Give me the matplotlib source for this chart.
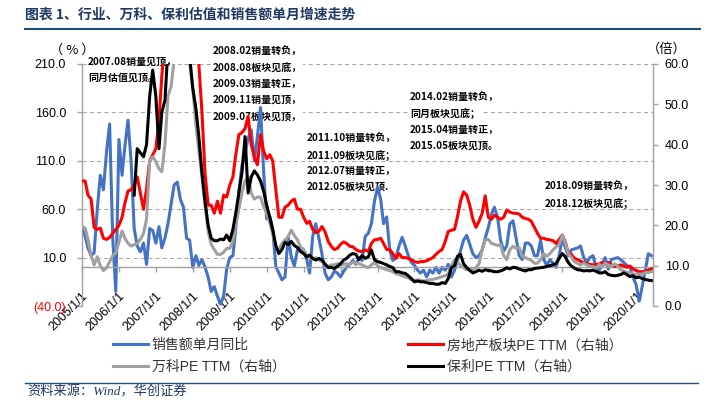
import numpy as np
import pandas as pd
import matplotlib
matplotlib.use("Agg")
import matplotlib.pyplot as plt
from matplotlib.lines import Line2D

plt.rcParams['font.family'] = ['Liberation Sans', 'Noto Sans CJK SC']
plt.rcParams['axes.unicode_minus'] = False

# monthly points, 2005/01 .. 2020/06
months = pd.date_range("2005-01-01", periods=186, freq="MS")
year_ticks = pd.to_datetime(["%d-01-01" % y for y in range(2005, 2021)])
year_labels = ["%d/1/1" % y for y in range(2005, 2021)]

# 销售额单月同比 (%), left axis
sales_yoy = [
    42, 32, 20, 12, 15, 60, 95, 80, 120, 148, 30, -25,          # 2005
    132, 95, 125, 152, 110, 40, 22, 16, 25, 3, 40, 38,          # 2006
    25, 42, 20, 30, 45, 65, 85, 88, 70, 62, 30, 28,             # 2007
    0, 12, 2, 8, 0, -10, -25, -20, -30, -38, -30, -2,           # 2008
    10, 12, 40, 78, 105, 118, 133, 142, 110, 135, 165, 100,     # 2009
    50, 52, 40, 1, -6, -13, -10, 32, 11, 1, 18, 20,             # 2010
    18, 8, -6, 32, 45, 30, 14, -6, -13, -10, -4, -6,            # 2011
    -10, -4, 0, 3, 7, 3, 10, 7, 32, 35, 45, 68,                 # 2012
    83, 70, 45, 52, 18, 7, 10, 22, 31, 22, 12, 5,               # 2013
    2, -3, -6, -3, -10, -3, -6, 0, -6, 0, -3, 3,                # 2014
    -10, -3, 7, 17, 28, 33, 24, 14, 10, 12, 18, 30,             # 2015
    41, 55, 62, 52, 28, 17, 22, 45, 48, 30, 12, 8,              # 2016
    25, 25, 22, 12, 12, 28, 8, 2, 8, 4, 0, 12,                  # 2017
    30, 20, 12, 18, 19, 20, 22, 10, 5, 10, 12, 0,               # 2018
    -3, 3, 10, -2, 8, 9, 10, 8, 5, 2, 0, -10,                   # 2019
    -18, -35, -20, -3, 14, 12,                                  # 2020
]

# 房地产板块PE TTM, right axis
sector_pe = [
    31, 31, 27.5, 26.5, 19.5, 19, 19.3, 16.8, 16.5, 17, 18, 19,
    20, 22, 25.5, 28.5, 28.8, 30, 32, 28, 24, 29, 36, 37.5,
    39, 46, 57, 66, 72, 78, 84, 88, 86, 82, 78, 74,
    70, 64, 60, 48, 33, 25, 25, 23, 26, 23, 27.5, 27,
    30, 32, 37.5, 42.5, 43, 44, 47, 40, 37, 35, 42.5, 38.5,
    36.5, 37.5, 36, 29, 22, 22, 24.5, 25, 26, 26.5, 24, 24,
    22, 20.5, 21, 19, 18.2, 18.5, 19.7, 18.4, 16, 14.8, 14, 14.3,
    15.3, 15.9, 15.5, 14.8, 14.7, 14, 13.6, 13.5, 13.9, 13.5, 15.5, 16.4,
    16.5, 16.8, 15.5, 14, 14, 13, 11.8, 13, 12, 12, 11.8, 11.4,
    11, 10.8, 11, 11, 11.2, 11.6, 12, 12.8, 13.5, 14, 16, 18.5,
    18.8, 19, 22, 26, 28.3, 27.5, 25, 21.5, 19.5, 21, 23, 27.3,
    22, 21.5, 22.5, 22, 21.5, 22, 23.8, 23.3, 23, 23, 22.8, 22,
    21.7, 21.5, 21, 19.5, 18, 16.8, 16.8, 16.5, 16.4, 16.2, 15.5, 16.5,
    17.6, 15.8, 13.2, 12.8, 11.8, 11.5, 11.1, 10.7, 10.5, 10.3, 10.2, 10.3,
    10.4, 10.8, 10.4, 10.8, 10.2, 9.8, 9.9, 10.2, 9.9, 9.6, 9.9, 9.2,
    8.8, 8.5, 8.5, 8.5, 8.9, 9.2,
]

# 万科PE TTM, right axis
vanke_pe = [
    19.7, 19.3, 16.5, 12.5, 10.2, 12.2, 10, 8.8, 9.5, 11, 12.5, 13.2,
    15.8, 18.6, 16.8, 15.5, 14.9, 15.2, 15.5, 16.5, 18, 21.5, 36, 37,
    35.8, 34, 33.3, 40, 52, 54.5, 61, 66, 70, 68, 64, 60.5,
    54, 45, 38.5, 32, 25, 18.5, 15.3, 14, 12.8, 12.8, 13.3, 14.3,
    14.3, 16, 20, 24, 28, 31, 32, 28, 26.5, 27, 27, 24.6,
    23, 20.5, 18, 14.7, 14, 15.5, 16.4, 17.2, 18.8, 17.5, 16.4, 14.7,
    14, 12.5, 12, 11.6, 12, 11.4, 11, 10.2, 9.8, 10.2, 10.2, 10.5,
    10.2, 10.3, 10.5, 10.3, 10.8, 10.6, 10.5, 10.2, 9.8, 9.5, 10.2, 10.8,
    10, 9.5, 9.3, 9, 8.8, 8.5, 8, 7.8, 7.5, 7.2, 7, 6.5,
    6.3, 6.5, 6.4, 6.2, 6.3, 6.5, 6.6, 6.8, 7, 7.3, 7.5, 8,
    10, 11.5, 11, 10, 9.5, 9, 9.3, 9, 9.5, 10.5, 14, 16.4,
    16.5, 15.5, 15.3, 15, 15.2, 12.5, 11.5, 14, 14.8, 14.3, 14.5, 12.3,
    12, 11.6, 11.3, 10.6, 10.6, 11.5, 13, 12.3, 13, 13.9, 14.7, 15.2,
    17.6, 15.5, 13, 12.1, 11, 10.6, 10.2, 10.6, 10.2, 9.8, 9.8, 9.5,
    10.3, 9.8, 10.6, 10.2, 9.8, 10.5, 9.9, 9, 8.7, 8.3, 8.3, 7.9,
    7.9, 7.9, 7.9, 8.3, 8.3, 8.5,
]

# 保利PE TTM, right axis (series starts 2006/06)
poly_pe = [np.nan] * 17 + [
    27.5, 39, 38, 37, 40, 52, 58.5,
    52, 39, 48, 51, 64, 68, 72, 75, 73, 70, 66, 62,
    54, 49, 42, 33, 26, 20, 16.8, 16.2, 16.2, 16.6, 16.4, 17.6,
    16.2, 19, 23, 28, 33, 42, 28, 32, 33.5, 32.5, 31, 28.5,
    25, 22, 19, 15, 13, 14, 15.8, 15.2, 16, 15, 14.5, 13.5,
    13, 12.2, 12.6, 11.8, 11.4, 11.8, 11.4, 10.4, 9.5, 9.6, 9.3, 9.8,
    10.5, 11.4, 11.8, 12.6, 13, 12.8, 11.5, 12.5, 11.8, 12.2, 13.9, 11.5,
    11, 10.8, 10.5, 10.2, 9.8, 9.5, 8.5, 8.5, 8.2, 8.1, 7.5, 6.8,
    6, 6.2, 6, 6, 5.8, 5.6, 5.6, 5.4, 5.4, 5.8, 5.6, 6.8,
    9.5, 10, 12.3, 12.8, 10.5, 9.5, 8.8, 8.2, 8.5, 8.9, 8.6, 9,
    8.8, 8.7, 8.5, 8.5, 8.7, 9, 9.5, 9.2, 9.6, 9.5, 9.2, 8.9,
    8.7, 9, 9, 9.3, 9.4, 9.5, 9.6, 9.8, 10, 10.2, 10.6, 11.8,
    13, 12.2, 10.8, 9.9, 9.4, 9, 8.9, 8.7, 8.8, 8.7, 8.9, 8.6,
    8.2, 8.2, 8.5, 7.8, 7.6, 7.5, 7.6, 7.8, 8.2, 7.8, 7.3, 7.5,
    7, 7.2, 6.8, 6.6, 6.4, 6.3,
]

left_ticks = [-40, 10, 60, 110, 160, 210]
left_labels = ["(40.0)", "10.0", "60.0", "110.0", "160.0", "210.0"]
right_ticks = [0, 10, 20, 30, 40, 50, 60]

notes = [
    (88, [62, 78], ["2007.08销量见顶，", "同月估值见顶。"]),
    (213, [51, 67, 84, 100, 117],
     ["2008.02销量转负，", "2008.08板块见底，", "2009.03销量转正，",
      "2009.11销量见顶，", "2009.07板块见顶，"]),
    (307, [138, 155, 171, 187],
     ["2011.10销量转负，", "2011.09板块见底；", "2012.07销量转正，", "2012.05板块见顶."]),
    (410, [97, 113, 130, 146],
     ["2014.02销量转负，", "同月板块见底；", "2015.04销量转正，", "2015.05板块见顶。"]),
    (545, [186, 203], ["2018.09销量转负，", "2018.12板块见底；"]),
]

W, H = 716, 404
axis_gray = '#A0A0A0'
fig = plt.figure(figsize=(W / 100, H / 100), dpi=100)
ax1 = fig.add_axes([82 / W, 1 - 306 / H, (653 - 82) / W, (306 - 64) / H])
ax2 = ax1.twinx()

# spines first: moving a spine resets the axis ticks
ax1.spines['top'].set_visible(False)
ax1.spines['right'].set_visible(False)
ax1.spines['bottom'].set_position(('data', 0))
for s in ('left', 'bottom'):
    ax1.spines[s].set_color(axis_gray)
    ax1.spines[s].set_linewidth(1.0)
for s in ('top', 'left', 'bottom'):
    ax2.spines[s].set_visible(False)
ax2.spines['right'].set_color(axis_gray)
ax2.spines['right'].set_linewidth(1.0)

lw = 2.2
l_sales, = ax1.plot(months, sales_yoy, color='#4472C4', lw=lw, zorder=2,
                    solid_joinstyle='round', label='销售额单月同比')
l_sector, = ax2.plot(months, sector_pe, color='#FF0000', lw=lw,
                     solid_joinstyle='round', label='房地产板块PE TTM（右轴）')
l_vanke, = ax2.plot(months, vanke_pe, color='#A0A0A0', lw=lw,
                    solid_joinstyle='round', label='万科PE TTM（右轴）')
l_poly, = ax2.plot(months, poly_pe, color='#000000', lw=lw,
                   solid_joinstyle='round', label='保利PE TTM（右轴）')

ax1.set_xlim(months[0], months[-1] + pd.Timedelta(days=15))
ax1.set_ylim(-40, 210)
ax2.set_ylim(0, 60)

ax1.set_yticks(left_ticks, labels=left_labels)
ax2.set_yticks(right_ticks, labels=["%.1f" % v for v in right_ticks])
ax1.set_xticks(year_ticks, labels=year_labels)

ax1.grid(axis='y', color='#A6A6A6', lw=0.75, linestyle=(0, (4, 3)))
ax1.set_axisbelow(True)

ax1.tick_params(axis='y', length=3.5, width=1, color=axis_gray, pad=8, labelsize=9)
ax1.tick_params(axis='x', length=3.5, width=1, color=axis_gray, pad=13, labelsize=9,
                labelrotation=45)
ax2.tick_params(axis='y', length=3.5, width=1, color=axis_gray, pad=5, labelsize=9)
for t in ax1.get_xticklabels():
    t.set_ha('right')
    t.set_rotation_mode('anchor')
for t in ax1.get_yticklabels():
    if t.get_text().startswith('('):
        t.set_color('#FF0000')

# annotations
for x, ys, lines in notes:
    for y, s in zip(ys, lines):
        ax1.text(x / W, 1 - y / H, s, transform=fig.transFigure, fontsize=7.2,
                 fontweight='bold', family=['Noto Sans CJK SC'], ha='left',
                 va='center', zorder=1.5,
                 bbox=dict(facecolor='white', edgecolor='none', pad=0.6))

fig.text(72 / W, 1 - 50 / H, '（ % ）', fontsize=9.5, ha='center', va='center',
         family=['Noto Sans CJK SC'])
fig.text(667 / W, 1 - 49 / H, '（倍）', fontsize=9.5, ha='center', va='center',
         family=['Noto Sans CJK SC'])

# legend, two columns
leg_prop = {'size': 10}
leg1 = fig.legend(handles=[l_sales, l_vanke], loc='upper left',
                  bbox_to_anchor=(113 / W, 1 - 338 / H), frameon=False,
                  borderpad=0, borderaxespad=0, handlelength=2.5,
                  handletextpad=0.3, labelspacing=0.55, prop=leg_prop)
leg2 = fig.legend(handles=[l_sector, l_poly], loc='upper left',
                  bbox_to_anchor=(408 / W, 1 - 338 / H), frameon=False,
                  borderpad=0, borderaxespad=0, handlelength=2.5,
                  handletextpad=0.3, labelspacing=0.55, prop=leg_prop)
for leg in (leg1, leg2):
    for t in leg.get_texts():
        t.set_color('#333333')

# title and source
fig.text(25 / W, 1 - 15 / H, '图表 1、行业、万科、保利估值和销售额单月增速走势',
         fontsize=10, fontweight='bold', color='#1F3864', ha='left', va='center',
         family=['Noto Sans CJK SC'])
fig.add_artist(Line2D([25 / W, 700 / W], [1 - 29 / H, 1 - 29 / H],
                      color='#1F4E79', lw=1.5))
fig.add_artist(Line2D([25 / W, 698 / W], [1 - 383 / H, 1 - 383 / H],
                      color='#1F4E79', lw=1.0))
fig.text(27 / W, 1 - 392 / H, '资料来源：Wind，华创证券', fontsize=9.5,
         style='italic', color='#1F3864', ha='left', va='center',
         family=['Liberation Serif', 'Noto Sans CJK SC'])

fig.savefig('out.png', dpi=100)
